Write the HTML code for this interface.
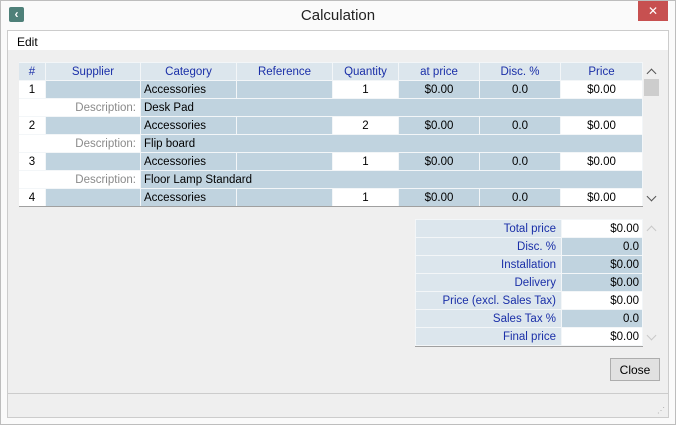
<!DOCTYPE html>
<html><head><style>
*{margin:0;padding:0;box-sizing:border-box}
body{width:676px;height:425px;background:#fafafa;font-family:"Liberation Sans",sans-serif;font-size:11.5px;position:relative;overflow:hidden;color:#000}
.a{position:absolute}
.c{position:absolute;height:17px;line-height:19px;white-space:nowrap;overflow:hidden}
.h{background:#dce6ed;color:#1a2fa8;text-align:center}
.b{background:#c0d3df}
.w{background:#fff}
.r{text-align:right;padding-right:5px}
.m{text-align:center}
.l{padding-left:3px}
.ar{position:absolute;width:7px;height:7px;border-left:1.5px solid #555;border-top:1.5px solid #555}
</style></head><body>
<div class="a" style="left:0;top:0;width:676px;height:425px;border:1px solid #bdbdbd"></div>
<div class="a" style="left:9px;top:7px;width:15px;height:15px;background:#4e8079;border-radius:2px;color:#fff;font-size:12px;line-height:15px;text-align:center;font-weight:bold">&#8249;</div>
<div class="a" style="left:0;top:7px;width:676px;text-align:center;font-size:15px;color:#222">Calculation</div>
<div class="a" style="left:638px;top:1px;width:30px;height:20px;background:#c75050;color:#fff;text-align:center;line-height:20px;font-size:12px">✕</div>
<div class="a" style="left:7px;top:30px;width:662px;height:388px;border:1px solid #cccccc;background:#efefef"></div>
<div class="a" style="left:8px;top:31px;width:660px;height:19px;background:#fff"></div>
<div class="a" style="left:17px;top:35px;font-size:12px">Edit</div>
<div class="a" style="left:8px;top:393px;width:660px;height:1px;background:#cccccc"></div>
<div class="a" style="left:19px;top:62px;width:624px;height:145px;background:#f3f6f8;border-bottom:1px solid #a0a0a0"></div>
<div class="c h" style="left:19px;top:63px;width:26px">#</div>
<div class="c h" style="left:46px;top:63px;width:94px">Supplier</div>
<div class="c h" style="left:141px;top:63px;width:95px">Category</div>
<div class="c h" style="left:237px;top:63px;width:95px">Reference</div>
<div class="c h" style="left:333px;top:63px;width:65px">Quantity</div>
<div class="c h" style="left:399px;top:63px;width:80px">at price</div>
<div class="c h" style="left:480px;top:63px;width:80px">Disc. %</div>
<div class="c h" style="left:561px;top:63px;width:81px">Price</div>
<div class="c w m" style="left:19px;top:81px;width:26px">1</div><div class="c b" style="left:46px;top:81px;width:94px"></div><div class="c b l" style="left:141px;top:81px;width:95px">Accessories</div><div class="c b" style="left:237px;top:81px;width:95px"></div><div class="c w m" style="left:333px;top:81px;width:65px">1</div><div class="c b m" style="left:399px;top:81px;width:80px">$0.00</div><div class="c b m" style="left:480px;top:81px;width:80px">0.0</div><div class="c w m" style="left:561px;top:81px;width:81px">$0.00</div>
<div class="c w r" style="left:19px;top:99px;width:121px;color:#8a8a8a;padding-right:4px">Description:</div><div class="c b l" style="left:141px;top:99px;width:501px">Desk Pad</div>
<div class="c w m" style="left:19px;top:117px;width:26px">2</div><div class="c b" style="left:46px;top:117px;width:94px"></div><div class="c b l" style="left:141px;top:117px;width:95px">Accessories</div><div class="c b" style="left:237px;top:117px;width:95px"></div><div class="c w m" style="left:333px;top:117px;width:65px">2</div><div class="c b m" style="left:399px;top:117px;width:80px">$0.00</div><div class="c b m" style="left:480px;top:117px;width:80px">0.0</div><div class="c w m" style="left:561px;top:117px;width:81px">$0.00</div>
<div class="c w r" style="left:19px;top:135px;width:121px;color:#8a8a8a;padding-right:4px">Description:</div><div class="c b l" style="left:141px;top:135px;width:501px">Flip board</div>
<div class="c w m" style="left:19px;top:153px;width:26px">3</div><div class="c b" style="left:46px;top:153px;width:94px"></div><div class="c b l" style="left:141px;top:153px;width:95px">Accessories</div><div class="c b" style="left:237px;top:153px;width:95px"></div><div class="c w m" style="left:333px;top:153px;width:65px">1</div><div class="c b m" style="left:399px;top:153px;width:80px">$0.00</div><div class="c b m" style="left:480px;top:153px;width:80px">0.0</div><div class="c w m" style="left:561px;top:153px;width:81px">$0.00</div>
<div class="c w r" style="left:19px;top:171px;width:121px;color:#8a8a8a;padding-right:4px">Description:</div><div class="c b l" style="left:141px;top:171px;width:501px">Floor Lamp Standard</div>
<div class="c w m" style="left:19px;top:189px;width:26px">4</div><div class="c b" style="left:46px;top:189px;width:94px"></div><div class="c b l" style="left:141px;top:189px;width:95px">Accessories</div><div class="c b" style="left:237px;top:189px;width:95px"></div><div class="c w m" style="left:333px;top:189px;width:65px">1</div><div class="c b m" style="left:399px;top:189px;width:80px">$0.00</div><div class="c b m" style="left:480px;top:189px;width:80px">0.0</div><div class="c w m" style="left:561px;top:189px;width:81px">$0.00</div>
<div class="ar" style="left:648px;top:70px;transform:rotate(45deg)"></div>
<div class="a" style="left:644px;top:79px;width:15px;height:17px;background:#cdcdcd"></div>
<div class="ar" style="left:648px;top:193px;transform:rotate(225deg)"></div>
<div class="a" style="left:415px;top:219px;width:228px;height:128px;background:#f3f6f8;border-bottom:1px solid #a0a0a0"></div>
<div class="c h r" style="left:416px;top:220px;width:145px">Total price</div><div class="c w r" style="left:562px;top:220px;width:80px;padding-right:3px">$0.00</div>
<div class="c h r" style="left:416px;top:238px;width:145px">Disc. %</div><div class="c b r" style="left:562px;top:238px;width:80px;padding-right:3px">0.0</div>
<div class="c h r" style="left:416px;top:256px;width:145px">Installation</div><div class="c b r" style="left:562px;top:256px;width:80px;padding-right:3px">$0.00</div>
<div class="c h r" style="left:416px;top:274px;width:145px">Delivery</div><div class="c b r" style="left:562px;top:274px;width:80px;padding-right:3px">$0.00</div>
<div class="c h r" style="left:416px;top:292px;width:145px">Price (excl. Sales Tax)</div><div class="c w r" style="left:562px;top:292px;width:80px;padding-right:3px">$0.00</div>
<div class="c h r" style="left:416px;top:310px;width:145px">Sales Tax %</div><div class="c b r" style="left:562px;top:310px;width:80px;padding-right:3px">0.0</div>
<div class="c h r" style="left:416px;top:328px;width:145px">Final price</div><div class="c w r" style="left:562px;top:328px;width:80px;padding-right:3px">$0.00</div>
<div class="ar" style="left:648px;top:227px;transform:rotate(45deg);border-color:#c8c8c8"></div>
<div class="ar" style="left:648px;top:332px;transform:rotate(225deg);border-color:#c8c8c8"></div>
<div class="a" style="left:610px;top:358px;width:50px;height:23px;background:#e1e1e1;border:1px solid #adadad;text-align:center;line-height:22px;font-size:12px">Close</div>
<div class="a" style="left:657px;top:406px;color:#aaa;font-size:8px;letter-spacing:-1px">⋰</div>
</body></html>
